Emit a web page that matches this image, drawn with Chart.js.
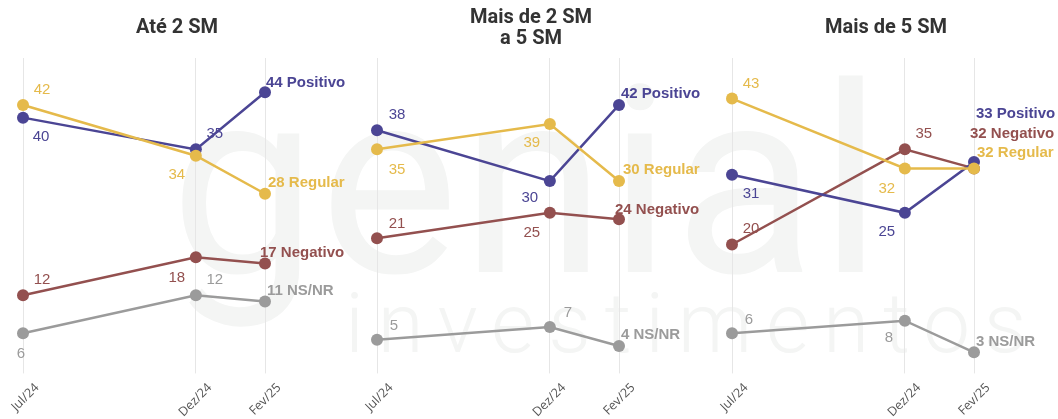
<!DOCTYPE html>
<html>
<head>
<meta charset="utf-8">
<script src="https://cdn.jsdelivr.net/npm/chart.js@4.4.1/dist/chart.umd.min.js"></script>
<style>
    body { margin: 0; background: #fff; }
    #wrap { position: relative; width: 1058px; height: 419px; overflow: hidden; }
    #marca { position: absolute; left: 0; top: 0; }
    .grafico { position: absolute; top: 0; }
    .titulo { position: absolute; width: 240px; text-align: center; font: bold 20px Roboto, sans-serif; color: #333; line-height: 21px; }
</style>
</head>
<body>
<div id="wrap">
    <canvas id="marca" width="1058" height="419"></canvas>
</div>
<script>
// Eixo x: meses (posicao em meses a partir de Jul/24)
const meses = ["Jul/24", "Dez/24", "Fev/25"];
const mesPos = [0, 5, 7];

const series = ["Positivo", "Regular", "Negativo", "NS/NR"];
const cores = ["#4b4594", "#e5ba4b", "#93504f", "#9b9b9b"];
// Regular fica por cima das outras linhas
const ordem = [1, 0, 2, 3];

// Até 2 SM
const ate2Positivo = [40, 35, 44];
const ate2Regular = [42, 34, 28];
const ate2Negativo = [12, 18, 17];
const ate2Nsnr = [6, 12, 11];

// Mais de 2 SM a 5 SM
const de2a5Positivo = [38, 30, 42];
const de2a5Regular = [35, 39, 30];
const de2a5Negativo = [21, 25, 24];
const de2a5Nsnr = [5, 7, 4];

// Mais de 5 SM
const mais5Positivo = [31, 25, 33];
const mais5Regular = [43, 32, 32];
const mais5Negativo = [20, 35, 32];
const mais5Nsnr = [6, 8, 3];

const paineis = [
    { titulo: ["Até 2 SM"], valores: [ate2Positivo, ate2Regular, ate2Negativo, ate2Nsnr] },
    { titulo: ["Mais de 2 SM", "a 5 SM"], valores: [de2a5Positivo, de2a5Regular, de2a5Negativo, de2a5Nsnr] },
    { titulo: ["Mais de 5 SM"], valores: [mais5Positivo, mais5Regular, mais5Negativo, mais5Nsnr] }
];

// Deslocamento dos rótulos [dx, dy] em relação ao ponto (estilo, não dados)
const rotulos = [
    [[18, 18], [19, -17], [1, -11]],
    [[19, -16], [-19, 18], [3, -12]],
    [[19, -17], [-19, 19], [-5, -12]],
    [[-2, 19], [19, -17], [2, -12]]
];
const rotulos2 = [
    [[20, -17], [-20, 16], [2, -12]],
    [[20, 19], [-18, 18], [4, -12]],
    [[20, -16], [-18, 19], [-4, -11]],
    [[17, -15], [18, -15], [2, -12]]
];
const rotulos3 = [
    [[19, 18], [-18, 18], [2, -49]],
    [[19, -16], [-18, 19], [3, -17]],
    [[19, -17], [19, -17], [-4, -36]],
    [[17, -15], [-16, 16], [2, -12]]
];
const posRotulos = [rotulos, rotulos2, rotulos3];

// Esquerda da área do gráfico em cada painel
const esquerdas = [23, 377, 732];

// Marca d'água ao fundo
function desenharMarca() {
    const ctx = document.getElementById("marca").getContext("2d");
    ctx.fillStyle = "#f4f5f4";
    ctx.font = "262px Roboto, sans-serif";
    let w = ctx.measureText("genial").width;
    ctx.letterSpacing = ((715 - w) / 6) + "px";
    ctx.fillText("genial", 170, 272);
    ctx.font = "300 84px Roboto, sans-serif";
    ctx.letterSpacing = "0px";
    w = ctx.measureText("investimentos").width;
    ctx.letterSpacing = ((695 - w) / 13) + "px";
    ctx.fillText("investimentos", 345, 352);
}

// Plugin para os rótulos de valores
const rotuloPlugin = {
    id: "rotulos",
    afterDatasetsDraw(chart, args, opts) {
        const ctx = chart.ctx;
        ctx.save();
        chart.data.datasets.forEach((ds, k) => {
            const meta = chart.getDatasetMeta(k);
            meta.data.forEach((pt, j) => {
                const [dx, dy] = opts.pos[k][j];
                const v = ds.data[j].y;
                ctx.fillStyle = ds.borderColor;
                if (j === ds.data.length - 1) {
                    ctx.font = "bold 15px 'Liberation Sans', Arial, sans-serif";
                    ctx.textAlign = "left";
                    ctx.fillText(v + " " + ds.label, pt.x + dx, pt.y + dy + 5.4);
                } else {
                    ctx.font = "15px 'Liberation Sans', Arial, sans-serif";
                    ctx.textAlign = "center";
                    ctx.fillText(String(v), pt.x + dx, pt.y + dy + 5.4);
                }
            });
        });
        ctx.restore();
    }
};

function criarPainel(painel, i) {
    const wrap = document.getElementById("wrap");
    const left = esquerdas[i];

    const titulo = document.createElement("div");
    titulo.className = "titulo";
    titulo.style.left = (left + 154 - 120) + "px";
    titulo.style.top = painel.titulo.length > 1 ? "6px" : "16px";
    titulo.innerHTML = painel.titulo.join("<br>");
    wrap.appendChild(titulo);

    const canvas = document.createElement("canvas");
    canvas.className = "grafico";
    canvas.width = 372;
    canvas.height = 419;
    canvas.style.left = (left - 40) + "px";
    wrap.appendChild(canvas);

    new Chart(canvas, {
        type: "line",
        data: {
            datasets: series.map((nome, k) => ({
                label: nome,
                data: painel.valores[k].map((v, j) => ({ x: mesPos[j], y: v })),
                borderColor: cores[k],
                backgroundColor: cores[k],
                borderWidth: 2.5,
                pointRadius: 6,
                pointHoverRadius: 6,
                pointBorderWidth: 0,
                order: ordem[k],
                clip: false
            }))
        },
        options: {
            responsive: false,
            animation: false,
            events: [],
            layout: { padding: { top: 58, left: 40, right: 90, bottom: 0 } },
            plugins: {
                legend: { display: false },
                tooltip: { enabled: false },
                rotulos: { pos: posRotulos[i] }
            },
            scales: {
                x: {
                    type: "linear",
                    min: 0,
                    max: 7,
                    afterBuildTicks: s => { s.ticks = mesPos.map(v => ({ value: v })); },
                    afterFit: s => { s.height = 47.6; },
                    border: { display: false },
                    grid: { color: "#e6e6e6", lineWidth: 1, tickLength: 2 },
                    ticks: {
                        minRotation: 45,
                        maxRotation: 45,
                        autoSkip: false,
                        labelOffset: 14,
                        padding: 7,
                        color: "#555",
                        font: { family: "'Open Sans'", size: 12.5 },
                        callback: v => meses[mesPos.indexOf(v)]
                    }
                },
                y: { display: false, min: 0, max: 49.4 }
            }
        },
        plugins: [rotuloPlugin]
    });
}

desenharMarca();
paineis.forEach(criarPainel);
</script>
</body>
</html>
